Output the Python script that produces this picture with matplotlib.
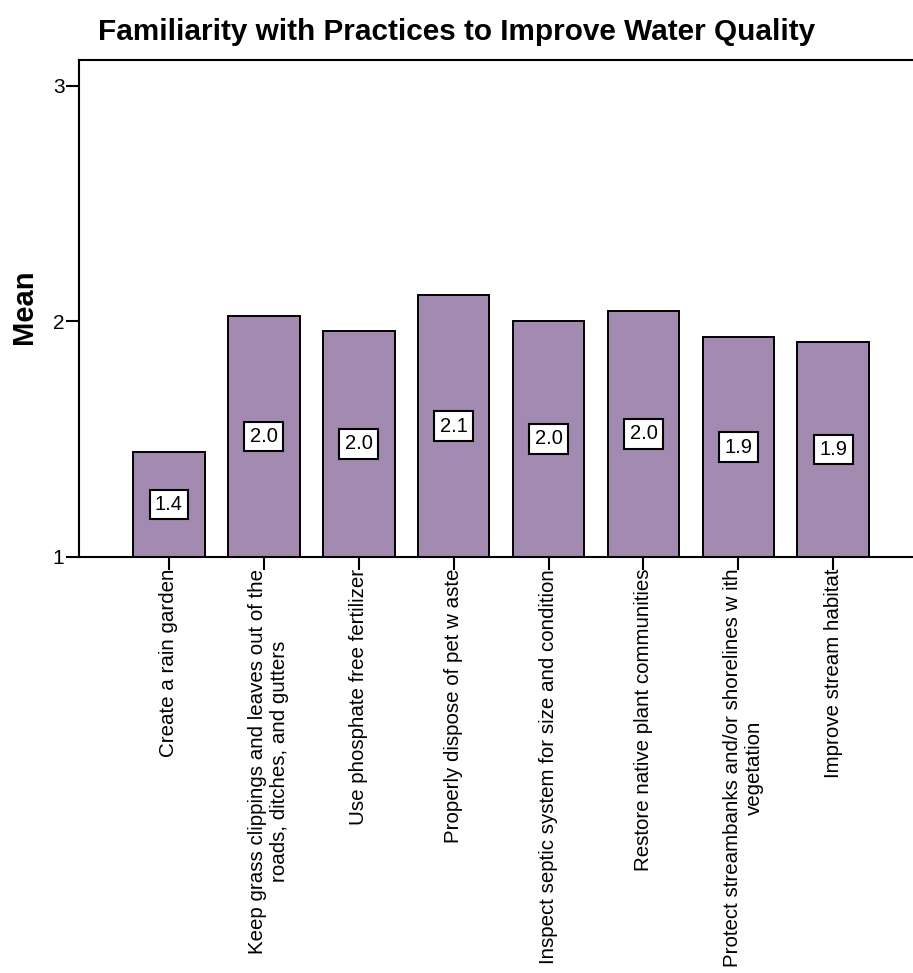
import matplotlib
matplotlib.use("Agg")
import matplotlib.pyplot as plt
import matplotlib.transforms as mtransforms
import numpy as np

plt.rcParams['font.family'] = ['Liberation Sans', 'DejaVu Sans']

categories = [
    "Create a rain garden",
    "Keep grass clippings and leaves out of the\nroads, ditches, and gutters",
    "Use phosphate free fertilizer",
    "Properly dispose of pet w aste",
    "Inspect septic system for size and condition",
    "Restore native plant communities",
    "Protect streambanks and/or shorelines w ith\nvegetation",
    "Improve stream habitat",
]
means = [1.446, 2.023, 1.960, 2.112, 2.002, 2.045, 1.934, 1.913]
labels = ["1.4", "2.0", "2.0", "2.1", "2.0", "2.0", "1.9", "1.9"]
yticks = [1, 2, 3]

W, H = 913, 973
fig = plt.figure(figsize=(W / 100, H / 100), dpi=100)
ax = fig.add_axes([79 / W, 1 - 557 / H, 1 - 79 / W, (557 - 60) / H])

x = np.arange(len(categories))
base = 1.0
ax.bar(x, np.array(means) - base, bottom=base, width=0.755,
       color='#A38AB1', edgecolor='black', linewidth=1.4, zorder=2)

for xi, m, lab in zip(x, means, labels):
    ax.text(xi, base + (m - base) / 2, lab, ha='center', va='center', fontsize=14.5,
            bbox=dict(boxstyle='square,pad=0.27', facecolor='white',
                      edgecolor='black', linewidth=1.5), zorder=3)

ax.set_xlim(-0.948, 7.84)
ax.set_ylim(1, 3.11)
ax.set_yticks(yticks)
ax.set_yticklabels([str(t) for t in yticks], fontsize=15)
ax.set_xticks(x)
ax.set_xticklabels(categories, rotation=90, fontsize=14.8, ha='center', va='top',
                   multialignment='center')
ax.tick_params(axis='both', direction='out', length=9.5, width=1.5, pad=1)
ax.tick_params(axis='x', pad=-1)
shift = mtransforms.ScaledTranslation(5 / 100, 0, fig.dpi_scale_trans)
for lbl in ax.get_xticklabels():
    if "\n" in lbl.get_text():
        lbl.set_transform(lbl.get_transform() + shift)
ax.spines['right'].set_visible(False)
for s in ['left', 'top', 'bottom']:
    ax.spines[s].set_linewidth(1.5)

fig.text(24 / W, 1 - 307 / H, "Mean", rotation=90, fontsize=21, fontweight='bold',
         ha='center', va='center')
fig.text(0.5, 1 - 40 / H, "Familiarity with Practices to Improve Water Quality",
         fontsize=21.4, fontweight='bold', ha='center', va='baseline')

fig.savefig("out.png", dpi=100)
